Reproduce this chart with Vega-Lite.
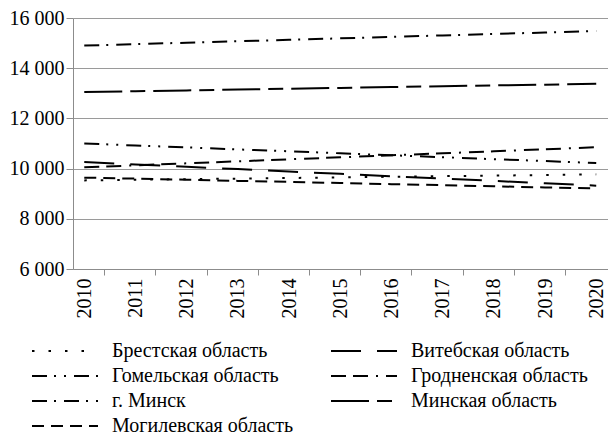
{
  "$schema": "https://vega.github.io/schema/vega-lite/v6.json",
  "width": 535,
  "height": 251,
  "autosize": "none",
  "padding": {"left": 73, "top": 18, "right": 0, "bottom": 168},
  "background": "white",
  "config": {
    "view": {"stroke": null},
    "axis": {"labelFont": "'Liberation Serif', 'Times New Roman', serif", "labelFontSize": 20, "labelColor": "black", "domainColor": "#8c8c8c", "tickColor": "#8c8c8c", "gridColor": "#9a9a9a", "title": null},
    "legend": {"labelFont": "'Liberation Serif', 'Times New Roman', serif"}
  },
  "data": {"values": [
    {"year": 2010, "region": "Брестская область", "value": 9530},
    {"year": 2011, "region": "Брестская область", "value": 9555},
    {"year": 2012, "region": "Брестская область", "value": 9580},
    {"year": 2013, "region": "Брестская область", "value": 9600},
    {"year": 2014, "region": "Брестская область", "value": 9625},
    {"year": 2015, "region": "Брестская область", "value": 9650},
    {"year": 2016, "region": "Брестская область", "value": 9675},
    {"year": 2017, "region": "Брестская область", "value": 9700},
    {"year": 2018, "region": "Брестская область", "value": 9720},
    {"year": 2019, "region": "Брестская область", "value": 9745},
    {"year": 2020, "region": "Брестская область", "value": 9770},
    {"year": 2010, "region": "Витебская область", "value": 10260},
    {"year": 2011, "region": "Витебская область", "value": 10165},
    {"year": 2012, "region": "Витебская область", "value": 10070},
    {"year": 2013, "region": "Витебская область", "value": 9980},
    {"year": 2014, "region": "Витебская область", "value": 9885},
    {"year": 2015, "region": "Витебская область", "value": 9790},
    {"year": 2016, "region": "Витебская область", "value": 9695},
    {"year": 2017, "region": "Витебская область", "value": 9600},
    {"year": 2018, "region": "Витебская область", "value": 9510},
    {"year": 2019, "region": "Витебская область", "value": 9415},
    {"year": 2020, "region": "Витебская область", "value": 9320},
    {"year": 2010, "region": "Гомельская область", "value": 11000},
    {"year": 2011, "region": "Гомельская область", "value": 10920},
    {"year": 2012, "region": "Гомельская область", "value": 10845},
    {"year": 2013, "region": "Гомельская область", "value": 10765},
    {"year": 2014, "region": "Гомельская область", "value": 10690},
    {"year": 2015, "region": "Гомельская область", "value": 10610},
    {"year": 2016, "region": "Гомельская область", "value": 10530},
    {"year": 2017, "region": "Гомельская область", "value": 10455},
    {"year": 2018, "region": "Гомельская область", "value": 10375},
    {"year": 2019, "region": "Гомельская область", "value": 10300},
    {"year": 2020, "region": "Гомельская область", "value": 10220},
    {"year": 2010, "region": "Гродненская область", "value": 10050},
    {"year": 2011, "region": "Гродненская область", "value": 10130},
    {"year": 2012, "region": "Гродненская область", "value": 10210},
    {"year": 2013, "region": "Гродненская область", "value": 10290},
    {"year": 2014, "region": "Гродненская область", "value": 10370},
    {"year": 2015, "region": "Гродненская область", "value": 10450},
    {"year": 2016, "region": "Гродненская область", "value": 10530},
    {"year": 2017, "region": "Гродненская область", "value": 10610},
    {"year": 2018, "region": "Гродненская область", "value": 10690},
    {"year": 2019, "region": "Гродненская область", "value": 10770},
    {"year": 2020, "region": "Гродненская область", "value": 10850},
    {"year": 2010, "region": "г. Минск", "value": 14900},
    {"year": 2011, "region": "г. Минск", "value": 14960},
    {"year": 2012, "region": "г. Минск", "value": 15015},
    {"year": 2013, "region": "г. Минск", "value": 15075},
    {"year": 2014, "region": "г. Минск", "value": 15130},
    {"year": 2015, "region": "г. Минск", "value": 15190},
    {"year": 2016, "region": "г. Минск", "value": 15250},
    {"year": 2017, "region": "г. Минск", "value": 15305},
    {"year": 2018, "region": "г. Минск", "value": 15365},
    {"year": 2019, "region": "г. Минск", "value": 15420},
    {"year": 2020, "region": "г. Минск", "value": 15480},
    {"year": 2010, "region": "Минская область", "value": 13050},
    {"year": 2011, "region": "Минская область", "value": 13085},
    {"year": 2012, "region": "Минская область", "value": 13115},
    {"year": 2013, "region": "Минская область", "value": 13150},
    {"year": 2014, "region": "Минская область", "value": 13180},
    {"year": 2015, "region": "Минская область", "value": 13215},
    {"year": 2016, "region": "Минская область", "value": 13250},
    {"year": 2017, "region": "Минская область", "value": 13280},
    {"year": 2018, "region": "Минская область", "value": 13315},
    {"year": 2019, "region": "Минская область", "value": 13345},
    {"year": 2020, "region": "Минская область", "value": 13380},
    {"year": 2010, "region": "Могилевская область", "value": 9640},
    {"year": 2011, "region": "Могилевская область", "value": 9600},
    {"year": 2012, "region": "Могилевская область", "value": 9555},
    {"year": 2013, "region": "Могилевская область", "value": 9510},
    {"year": 2014, "region": "Могилевская область", "value": 9470},
    {"year": 2015, "region": "Могилевская область", "value": 9425},
    {"year": 2016, "region": "Могилевская область", "value": 9380},
    {"year": 2017, "region": "Могилевская область", "value": 9340},
    {"year": 2018, "region": "Могилевская область", "value": 9295},
    {"year": 2019, "region": "Могилевская область", "value": 9250},
    {"year": 2020, "region": "Могилевская область", "value": 9210}
  ]},
  "mark": {"type": "line", "color": "black", "strokeWidth": 2},
  "encoding": {
    "x": {
      "field": "year", "type": "quantitative",
      "scale": {"domain": [2009.78, 2020.23], "nice": false, "zero": false},
      "axis": {
        "values": [2010, 2011, 2012, 2013, 2014, 2015, 2016, 2017, 2018, 2019, 2020],
        "format": "d", "labelAngle": -90, "labelAlign": "right", "labelBaseline": "middle",
        "labelFont": "'Liberation Serif', 'Times New Roman', serif", "labelFontSize": 20,
        "tickSize": 6, "tickOffset": 20, "labelOffset": -20, "labelPadding": 3,
        "grid": false, "labelFlush": false, "labelOverlap": false,
        "encoding": {"labels": {"update": {"font": {"value": "'Liberation Serif', 'Times New Roman', serif"}}}}
      }
    },
    "y": {
      "field": "value", "type": "quantitative",
      "scale": {"domain": [6000, 16000], "nice": false, "zero": false},
      "axis": {
        "values": [6000, 8000, 10000, 12000, 14000, 16000],
        "labelExpr": "replace(format(datum.value, ',d'), ',', ' ')",
        "labelFont": "'Liberation Serif', 'Times New Roman', serif", "labelFontSize": 20,
        "tickSize": 7, "labelPadding": 2, "grid": true, "labelFlush": false,
        "encoding": {"labels": {"update": {"font": {"value": "'Liberation Serif', 'Times New Roman', serif"}}}}
      }
    },
    "strokeDash": {
      "field": "region", "type": "nominal",
      "scale": {
        "domain": ["Брестская область", "Витебская область", "Гомельская область", "Гродненская область", "г. Минск", "Минская область", "Могилевская область"],
        "range": [[2.5, 14], [30, 16], [15, 7, 2, 8, 2, 8], [15, 7, 15, 8, 2, 8], [15, 7, 2, 8], [38, 8, 15, 8], [12, 7]]
      },
      "legend": {
        "title": null, "orient": "none", "legendX": -20, "legendY": 321,
        "columns": 2, "direction": "horizontal", "symbolType": "M-3,0H3", "symbolSize": 484,
        "symbolStrokeWidth": 2, "symbolStrokeColor": "black", "symbolFillColor": "transparent",
        "labelFont": "'Liberation Serif', 'Times New Roman', serif", "labelFontSize": 20, "labelColor": "black",
        "labelOffset": 35, "columnPadding": 33, "rowPadding": 3, "labelLimit": 400
      }
    }
  }
}
